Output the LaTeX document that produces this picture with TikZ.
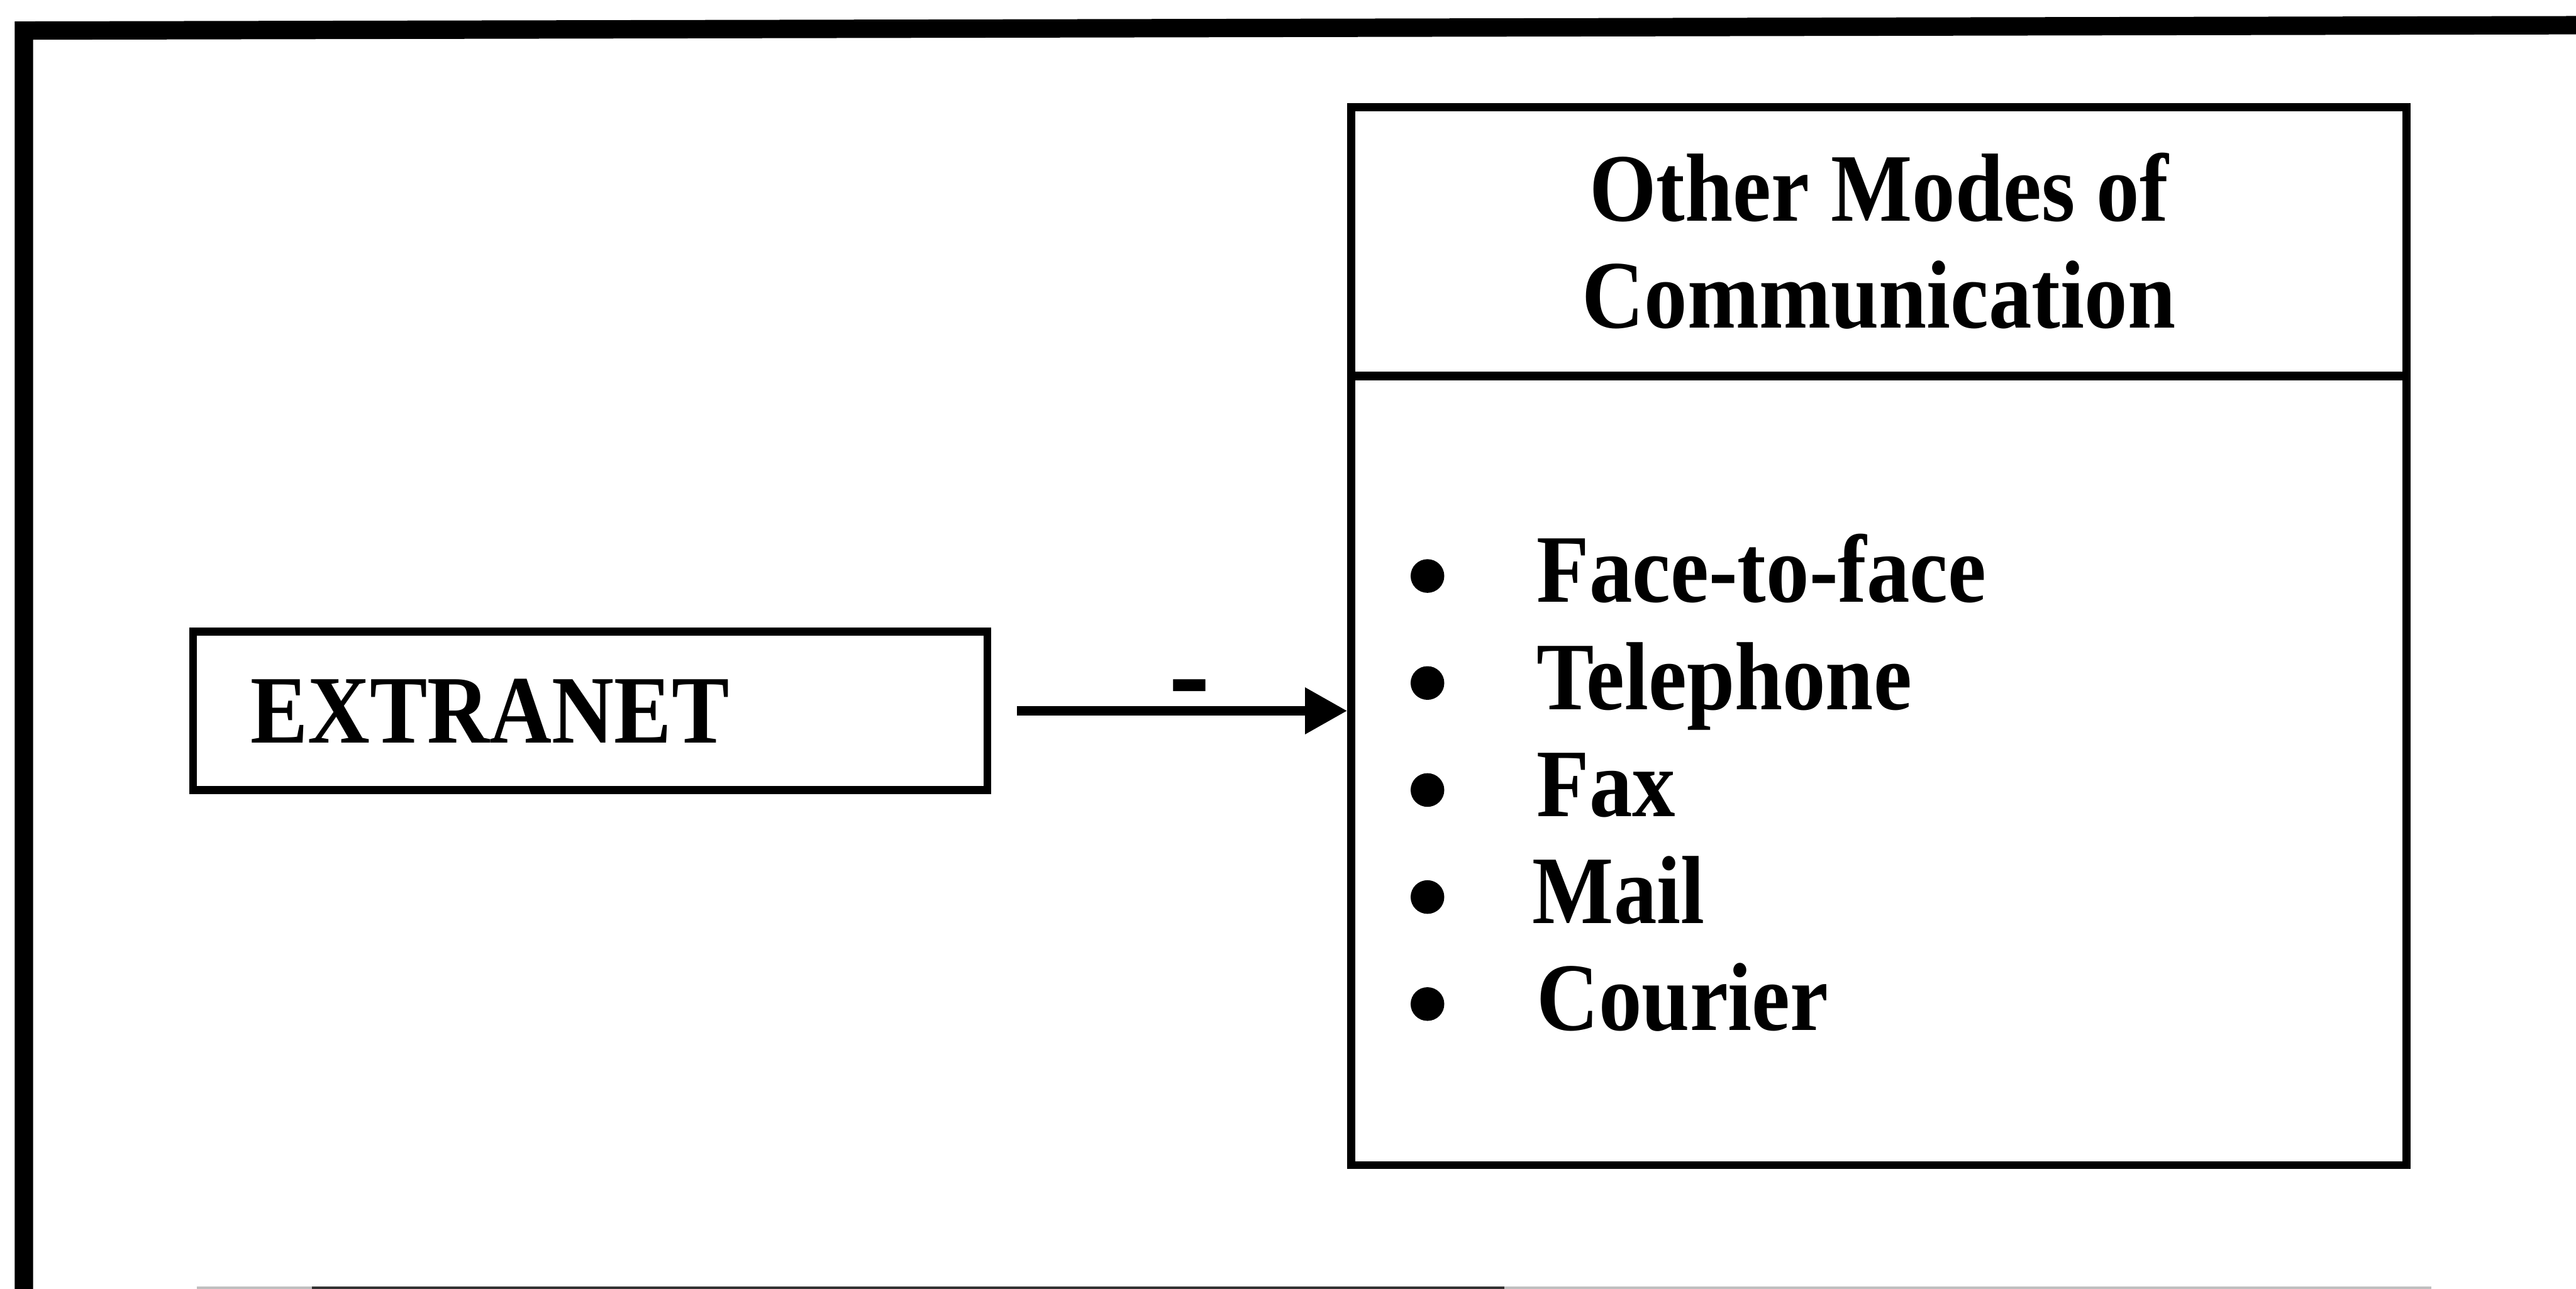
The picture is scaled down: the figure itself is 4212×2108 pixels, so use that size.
\documentclass[tikz,border=0pt]{standalone}
\usepackage{fontspec}
\setmainfont{Liberation Serif}[FakeStretch=0.89]
\usetikzlibrary{arrows.meta}
\begin{document}
\begin{tikzpicture}[x=0.01cm,y=-0.01cm,
  box/.style={draw, line width=0.13cm, inner sep=0},
  lbl/.style={font=\fontsize{45}{49.8}\selectfont\bfseries, inner sep=0},
  dot/.style={circle, fill, minimum size=0.55cm, inner sep=0},
  conn/.style={line width=0.16cm, -{Triangle[length=0.69cm,width=0.72cm]}}]
  % page
  \useasboundingbox (0,0) rectangle (4212,2108);
  \fill[white] (0,0) rectangle (4212,2108);
  % outer frame (left and top edges, bottom edge just grazing the page)
  \draw[line width=0.30cm] (39,2200) -- (39,50) -- (4300,41);
  \draw[line width=0.04cm, black!25] (322,2106) -- (3975,2106);
  \draw[line width=0.05cm, black!80] (510,2106) -- (2460,2106);

  % source box
  \node[box, minimum width=12.98cm, minimum height=2.59cm,
        text width=11.1cm, inner xsep=0.94cm, align=left,
        font=\fontsize{45}{49.8}\selectfont\bfseries] (ext) at (965,1162.5) {EXTRANET};

  % target box with title and list
  \node[box, minimum width=17.24cm, minimum height=17.29cm] (modes) at (3072,1040.5) {};
  \draw[line width=0.15cm] (modes.west |- 0,615) -- (modes.east |- 0,615);
  \node[lbl, align=center] (title) at (3072,394) {Other Modes of\\Communication};

  \node[dot] (b1) at (2334,942) {};
  \node[dot] (b2) at (2334,1117) {};
  \node[dot] (b3) at (2334,1292) {};
  \node[dot] (b4) at (2334,1467) {};
  \node[dot] (b5) at (2334,1642) {};
  \node[lbl, anchor=base west] (i1) at (2512,985) {Face-to-face};
  \node[lbl, anchor=base west] (i2) at (2512,1160) {Telephone};
  \node[lbl, anchor=base west] (i3) at (2512,1335) {Fax};
  \node[lbl, anchor=base west] (i4) at (2505,1510) {Mail};
  \node[lbl, anchor=base west] (i5) at (2512,1685) {Courier};

  % connector
  \draw[conn, shorten <=0.42cm] (ext.east) -- (ext.east -| modes.west);
  \node[inner sep=0, anchor=base, font=\fontsize{65}{65}\selectfont\bfseries] (dash) at (1945,1175) {-};
\end{tikzpicture}
\end{document}
